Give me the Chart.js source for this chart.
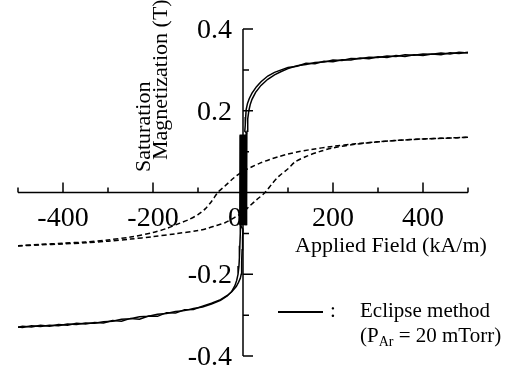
<!DOCTYPE html>
<html lang="en">
<head>
    <meta charset="UTF-8">
    <title>Saturation Magnetization vs Applied Field</title>
    <script src="https://cdn.jsdelivr.net/npm/chart.js"></script>
    <style>
        body {
            margin: 0;
            background: #fff;
        }
        canvas {
            display: block;
        }
    </style>
</head>
<body>
    <canvas id="loopChart" width="516" height="366"></canvas>

    <script>
        // solid loop (Eclipse method), branch coming down from +500
        const solidDownField = [500,480,460,440,420,400,380,360,340,320,300,280,260,240,220,200,180,160,140,120,100,85,70,55,40,30,20,14,10,7,6,5,4,
            8,7,5,4,2,1,-1,-2,-4,-5,-6,
            -6,-7,-8,-9,-11,-14,-18,-25,-35,-50,-70,-90,-110,-130,-150,-170,-190,-210,-230,-250,-270,-290,-310,-330,-350,-370,-390,-410,-430,-450,-470,-490,-500];
        const solidDownMag = [.343,.340,.342,.337,.339,.335,.337,.333,.335,.330,.332,.327,.329,.324,.325,.320,.321,.315,.316,.309,.306,.300,.294,.285,.271,.259,.243,.230,.218,.203,.185,.165,.150,
            .145,-.080,.140,-.080,.140,-.080,.140,-.080,.140,-.080,.140,
            -.100,-.130,-.160,-.180,-.200,-.215,-.228,-.242,-.253,-.264,-.273,-.280,-.284,-.289,-.291,-.296,-.298,-.303,-.304,-.309,-.310,-.315,-.316,-.320,-.319,-.323,-.322,-.326,-.325,-.328,-.326,-.330,-.329];

        // solid loop, branch going up from -500
        const solidUpField = [-500,-490,-470,-450,-430,-410,-390,-370,-350,-330,-310,-290,-270,-250,-230,-210,-190,-170,-150,-130,-110,-90,-70,-50,-35,-25,-15,-10,-6,-4,-3,-2,-1,0,
            -7,-6,-4,-3,-1,0,2,3,5,6,7,8,
            9,10,11,13,16,20,28,40,55,70,85,100,120,140,160,180,200,220,240,260,280,300,320,340,360,380,400,420,440,460,480,500];
        const solidUpMag = [-.330,-.327,-.329,-.325,-.327,-.323,-.325,-.320,-.322,-.318,-.319,-.313,-.315,-.308,-.310,-.302,-.303,-.294,-.295,-.287,-.286,-.278,-.271,-.262,-.252,-.243,-.230,-.220,-.210,-.200,-.170,-.140,-.110,-.090,
            -.078,.142,-.078,.142,-.078,.142,-.078,.142,-.078,.142,-.078,.142,
            .150,.165,.180,.200,.215,.228,.245,.262,.277,.288,.296,.303,.310,.313,.318,.319,.324,.323,.328,.327,.331,.330,.334,.333,.337,.336,.339,.338,.341,.339,.343,.341];

        // dashed loop
        const dashDownField = [500,450,400,350,300,250,200,150,120,100,80,60,40,20,0,-20,-40,-56,-70,-84,-100,-120,-140,-170,-200,-250,-300,-350,-400,-450,-500];
        const dashDownMag = [.135,.133,.131,.128,.124,.119,.113,.105,.099,.094,.088,.081,.073,.063,.052,.036,.016,0,-.022,-.040,-.054,-.066,-.075,-.088,-.098,-.109,-.116,-.121,-.124,-.127,-.130];
        const dashUpField = [-500,-450,-400,-350,-300,-250,-200,-150,-100,-80,-60,-40,-20,0,15,30,49,65,80,100,116,140,170,200,250,300,350,400,450,500];
        const dashUpMag = [-.131,-.128,-.126,-.123,-.119,-.114,-.108,-.101,-.093,-.088,-.081,-.074,-.062,-.048,-.033,-.018,0,.022,.040,.058,.075,.088,.100,.109,.118,.124,.128,.131,.133,.135];

        const xMajorTicks = [-400, -200, 200, 400];
        const xMinorTicks = [-500, -300, -100, 100, 300, 500];
        const yMajorTicks = [-0.4, -0.2, 0.2, 0.4];
        const yMinorTicks = [-0.3, -0.1, 0.1, 0.3];
        const xTickValues = [-400, -200, 0, 200, 400];
        const xTickLabels = ['-400', '-200', '0', '200', '400'];
        const yTickValues = [0.4, 0.2, -0.2, -0.4];
        const yTickLabels = ['0.4', '0.2', '-0.2', '-0.4'];

        const serif = '"Liberation Serif", "Times New Roman", serif';

        function toPoints(xs, ys) {
            let pts = [];
            for (let i = 0; i < Math.min(xs.length, ys.length); i++) {
                pts.push({ x: xs[i], y: ys[i] });
            }
            return pts;
        }

        // axes crossing at the origin, ticks pointing inward, labels, titles, legend
        const crossAxes = {
            id: 'crossAxes',
            beforeDatasetsDraw(chart) {
                const { ctx, scales: { x, y } } = chart;
                const x0 = x.getPixelForValue(0);
                const y0 = y.getPixelForValue(0);
                ctx.save();
                ctx.strokeStyle = '#000';
                ctx.lineWidth = 1.5;
                ctx.beginPath();
                ctx.moveTo(x.getPixelForValue(-500), y0);
                ctx.lineTo(x.getPixelForValue(500), y0);
                ctx.moveTo(x0, y.getPixelForValue(0.4));
                ctx.lineTo(x0, y.getPixelForValue(-0.4));
                xMajorTicks.forEach(v => {
                    const px = x.getPixelForValue(v);
                    ctx.moveTo(px, y0);
                    ctx.lineTo(px, y0 - 10);
                });
                xMinorTicks.forEach(v => {
                    const px = x.getPixelForValue(v);
                    ctx.moveTo(px, y0);
                    ctx.lineTo(px, y0 - 5);
                });
                yMajorTicks.forEach(v => {
                    const py = y.getPixelForValue(v);
                    ctx.moveTo(x0, py);
                    ctx.lineTo(x0 + 10, py);
                });
                yMinorTicks.forEach(v => {
                    const py = y.getPixelForValue(v);
                    ctx.moveTo(x0, py);
                    ctx.lineTo(x0 + 6, py);
                });
                ctx.stroke();
                ctx.restore();
            },
            afterDatasetsDraw(chart) {
                const { ctx, scales: { x, y } } = chart;
                const x0 = x.getPixelForValue(0);
                const y0 = y.getPixelForValue(0);
                ctx.save();
                ctx.fillStyle = '#000';
                ctx.textBaseline = 'alphabetic';

                // tick labels
                ctx.font = '28px ' + serif;
                xTickValues.forEach((v, i) => {
                    if (v === 0) {
                        ctx.textAlign = 'right';
                        ctx.fillText(xTickLabels[i], x0 - 1, y0 + 33);
                    } else {
                        ctx.textAlign = 'center';
                        ctx.fillText(xTickLabels[i], x.getPixelForValue(v), y0 + 33);
                    }
                });
                ctx.textAlign = 'right';
                yTickValues.forEach((v, i) => {
                    ctx.fillText(yTickLabels[i], x0 - 11, y.getPixelForValue(v) + 9);
                });

                // axis titles
                ctx.font = '22px ' + serif;
                ctx.textAlign = 'left';
                ctx.fillText('Applied Field (kA/m)', 295, 252);

                ctx.save();
                ctx.translate(150, 172);
                ctx.rotate(-Math.PI / 2);
                ctx.fillText('Saturation', 0, 0);
                ctx.restore();
                ctx.save();
                ctx.translate(167, 160);
                ctx.rotate(-Math.PI / 2);
                ctx.fillText('Magnetization (T)', 0, 0);
                ctx.restore();

                // legend
                ctx.strokeStyle = '#000';
                ctx.lineWidth = 2;
                ctx.beginPath();
                ctx.moveTo(278, 312);
                ctx.lineTo(323, 312);
                ctx.stroke();
                ctx.font = '21px ' + serif;
                ctx.fillText(':', 330, 317);
                ctx.fillText('Eclipse method', 360, 317);
                ctx.fillText('(P', 360, 342);
                let w = ctx.measureText('(P').width;
                ctx.font = '14px ' + serif;
                ctx.fillText('Ar', 360 + w, 346);
                w += ctx.measureText('Ar').width;
                ctx.font = '21px ' + serif;
                ctx.fillText(' = 20 mTorr)', 360 + w, 342);
                ctx.restore();
            }
        };

        const chart = new Chart(document.getElementById('loopChart'), {
            type: 'scatter',
            data: {
                datasets: [
                    {
                        label: 'Eclipse method (down)',
                        data: toPoints(solidDownField, solidDownMag),
                        showLine: true,
                        borderColor: '#000',
                        borderWidth: 1.5,
                        pointRadius: 0,
                        tension: 0
                    },
                    {
                        label: 'Eclipse method (up)',
                        data: toPoints(solidUpField, solidUpMag),
                        showLine: true,
                        borderColor: '#000',
                        borderWidth: 1.5,
                        pointRadius: 0,
                        tension: 0
                    },
                    {
                        label: 'dashed (down)',
                        data: toPoints(dashDownField, dashDownMag),
                        showLine: true,
                        borderColor: '#000',
                        borderWidth: 1.5,
                        borderDash: [5, 3],
                        pointRadius: 0,
                        tension: 0.3
                    },
                    {
                        label: 'dashed (up)',
                        data: toPoints(dashUpField, dashUpMag),
                        showLine: true,
                        borderColor: '#000',
                        borderWidth: 1.5,
                        borderDash: [5, 3],
                        pointRadius: 0,
                        tension: 0.3
                    }
                ]
            },
            options: {
                responsive: false,
                animation: false,
                layout: {
                    padding: { left: 18, right: 48, top: 29, bottom: 10 }
                },
                plugins: {
                    legend: { display: false },
                    tooltip: { enabled: false }
                },
                scales: {
                    x: { type: 'linear', min: -500, max: 500, display: false },
                    y: { type: 'linear', min: -0.4, max: 0.4, display: false }
                }
            },
            plugins: [crossAxes]
        });
    </script>
</body>
</html>
